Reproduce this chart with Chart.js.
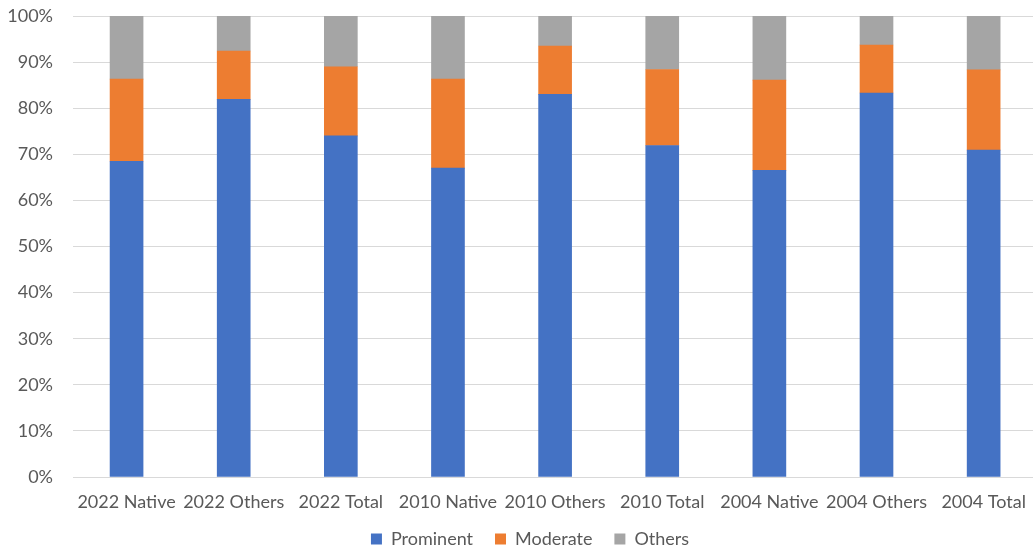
<!DOCTYPE html>
<html>
<head>
<meta charset="utf-8">
<script src="https://cdn.jsdelivr.net/npm/chart.js@4"></script>
<style>
  html, body { margin: 0; padding: 0; background: #ffffff; overflow: hidden; }
  #wrap { width: 1040px; height: 552px; }
</style>
</head>
<body>
<div id="wrap"><canvas id="grafico" width="1040" height="552"></canvas></div>
<script>
// datos (porcentajes)
var categorias = ['2022 Native', '2022 Others', '2022 Total', '2010 Native', '2010 Others',
    '2010 Total', '2004 Native', '2004 Others', '2004 Total'];
var prominent = [68.5, 81.9, 74.0, 67.0, 83.0, 71.9, 66.5, 83.3, 70.9];
var moderate = [17.8, 10.5, 15.0, 19.3, 10.5, 16.5, 19.6, 10.4, 17.4];
var others = [13.7, 7.6, 11.0, 13.7, 6.5, 11.6, 13.9, 6.3, 11.7];

var fuente = "Lato, 'Liberation Sans', sans-serif";
var gris = '#595959';

// ajusta alto y posicion de la leyenda
var ajusteLeyenda = {
    id: 'ajusteLeyenda',
    beforeInit: function (chart) {
        var fitOriginal = chart.legend.fit;
        chart.legend.fit = function () {
            fitOriginal.call(this);
            this.height = 42;
        };
    },
    afterLayout: function (chart) {
        chart.legend.left += 11;
        chart.legend.right += 11;
    }
};

var ctx = document.getElementById('grafico').getContext('2d');

var chart = new Chart(ctx, {
    type: 'bar',
    data: {
        labels: categorias,
        datasets: [{
                label: 'Prominent',
                data: prominent,
                backgroundColor: '#4472C4'
            }, {
                label: 'Moderate',
                data: moderate,
                backgroundColor: '#ED7D31'
            }, {
                label: 'Others',
                data: others,
                backgroundColor: '#A5A5A5'
            }]
    },
    options: {
        responsive: false,
        animation: false,
        barThickness: 33,
        layout: {
            padding: {top: 16, right: 2, left: 0, bottom: 2}
        },
        plugins: {
            tooltip: {enabled: false},
            legend: {
                position: 'bottom',
                labels: {
                    color: gris,
                    font: {family: fuente, size: 18},
                    boxWidth: 11,
                    boxHeight: 11,
                    padding: 22
                }
            }
        },
        scales: {
            x: {
                stacked: true,
                grid: {display: false, drawTicks: false},
                border: {display: false},
                ticks: {
                    color: gris,
                    font: {family: fuente, size: 18},
                    padding: 14,
                    maxRotation: 0,
                    autoSkip: false
                },
                afterFit: function (scale) {
                    scale.height = 31;
                }
            },
            y: {
                stacked: true,
                min: 0,
                max: 100,
                grid: {color: '#d9d9d9', drawTicks: false},
                border: {display: false},
                ticks: {
                    stepSize: 10,
                    color: gris,
                    font: {family: fuente, size: 18},
                    padding: 20,
                    callback: function (v) {
                        return v + '%';
                    }
                },
                afterFit: function (scale) {
                    scale.width = 73;
                    scale.paddingTop = 0;
                    scale.paddingBottom = 0;
                }
            }
        }
    },
    plugins: [ajusteLeyenda]
});
</script>
</body>
</html>
